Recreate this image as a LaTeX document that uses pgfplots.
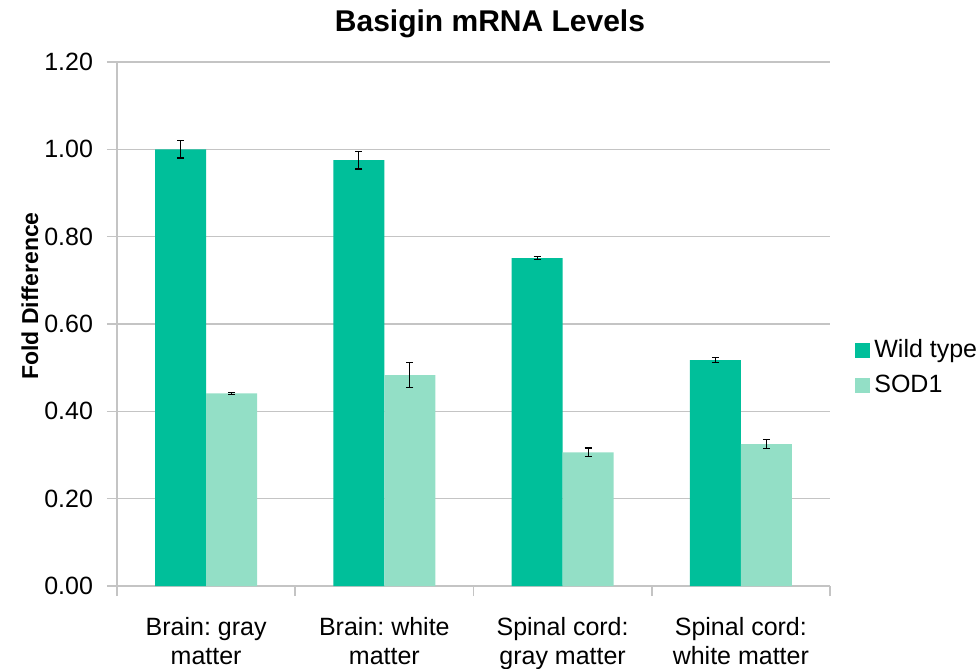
\documentclass[border=0pt]{standalone}
\usepackage{pgfplots}
\pgfplotsset{compat=1.18}
\usepackage{fontspec}
\setmainfont{Liberation Sans}
\frenchspacing
\definecolor{wt}{HTML}{00BF9A}
\definecolor{sod}{HTML}{93DFC6}
\definecolor{gridc}{HTML}{C4C4C4}
\begin{document}
\begin{tikzpicture}
\useasboundingbox (-58.5pt,-41.5pt) rectangle (431.5pt,293pt);
\begin{axis}[
  at={(0,0)}, anchor=south west,
  scale only axis, width=356.5pt, height=262pt,
  xmin=-0.5, xmax=3.5, ymin=0, ymax=1.2,
  ybar=0pt, bar width=25.5pt,
  axis x line*=bottom, axis y line*=left,
  axis line style={gridc, line width=0.8pt, -},
  ytick={0,0.2,0.4,0.6,0.8,1.0,1.2},
  ymajorgrids, major grid style={gridc, line width=0.8pt},
  tick align=outside, major tick length=5pt, minor tick length=5pt,
  tick style={gridc, line width=0.8pt},
  xtick={0,1,2,3},
  major x tick style={draw=none},
  minor xtick={-0.5,0.5,1.5,2.5,3.5},
  xticklabels={{Brain: gray\\matter},{Brain: white\\matter},{Spinal cord:\\gray matter},{Spinal cord:\\white matter}},
  xticklabel style={align=center, font=\fontsize{12.5}{14.5}\selectfont, yshift=-7pt},
  yticklabel style={font=\fontsize{12.5}{15}\selectfont, xshift=-3.5pt},
  /pgf/number format/.cd, fixed, fixed zerofill, precision=2, assume math mode=true,
  /pgfplots/.cd,
  legend style={at={(axis description cs:1.035,0.417)}, anchor=west, draw=none, inner sep=0pt,
    font=\fontsize{12.5}{15}\selectfont, row sep=3pt},
  legend cell align=left,
  legend image code/.code={\fill[#1] (0pt,-3.75pt) rectangle (7.5pt,3.75pt);},
  error bars/error bar style={black, line width=0.6pt},
  error bars/error mark options={rotate=90, mark size=1.8pt, black, line width=0.6pt},
]
\addplot[fill=wt, draw=none, error bars/.cd, y dir=both, y explicit]
  coordinates {(0,1.000) +- (0,0.020) (1,0.975) +- (0,0.020) (2,0.751) +- (0,0.003) (3,0.517) +- (0,0.006)};
\addplot[fill=sod, draw=none, error bars/.cd, y dir=both, y explicit]
  coordinates {(0,0.441) +- (0,0.002) (1,0.483) +- (0,0.028) (2,0.306) +- (0,0.010) (3,0.325) +- (0,0.010)};
\legend{Wild type, SOD1}
\end{axis}
\node[font=\bfseries\fontsize{15}{18}\selectfont, anchor=base] at (186.5pt,277pt) {Basigin mRNA Levels};
\node[font=\bfseries\fontsize{11.5}{14}\selectfont, rotate=90] at (-43.5pt,145pt) {Fold Difference};
\end{tikzpicture}
\end{document}
